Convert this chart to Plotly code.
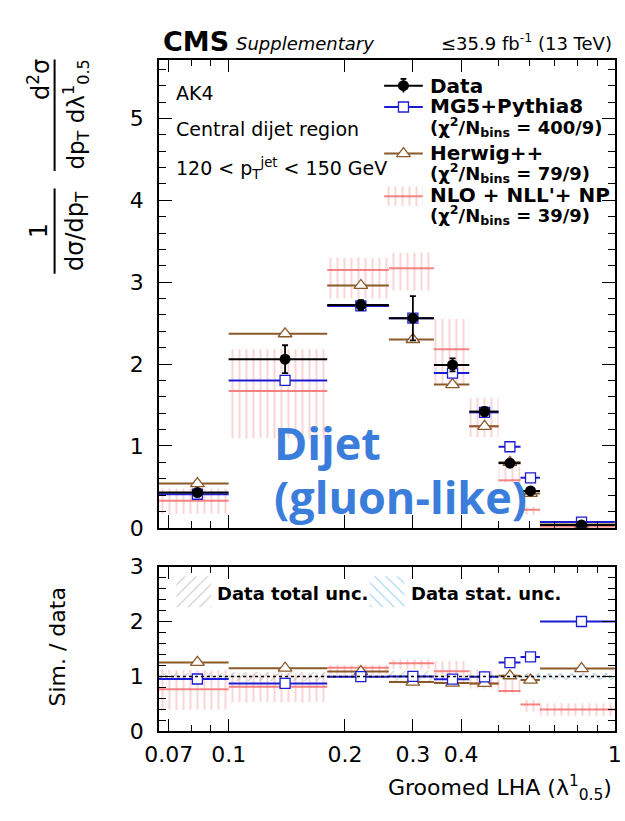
import math
import plotly.graph_objects as go

# Groomed LHA (lambda^1_0.5), AK4 central dijet, 120 < pT < 150 GeV
bin_edges = [0.066, 0.1, 0.18, 0.26, 0.34, 0.42, 0.5, 0.57, 0.64, 1.0]
data_vals = [0.43, 2.06, 2.72, 2.56, 1.99, 1.42, 0.79, 0.45, 0.035]
data_err_total = [0.03, 0.17, 0.06, 0.27, 0.08, 0.05, 0.03, 0.03, 0.002]
data_err_stat = [0.01, 0.03, 0.02, 0.04, 0.02, 0.02, 0.02, 0.02, 0.002]
mg5_vals = [0.41, 1.80, 2.71, 2.56, 1.89, 1.41, 0.99, 0.61, 0.07]
herwig_vals = [0.54, 2.37, 2.96, 2.30, 1.75, 1.24, 0.80, 0.42, 0.04]
nlo_vals = [0.33, 1.67, 3.15, 3.17, 2.18, 1.24, 0.58, 0.22, 0.014]
nlo_lo = [0.17, 1.09, 2.80, 2.90, 1.75, 1.11, 0.55, 0.16, 0.010]
nlo_hi = [0.48, 2.18, 3.30, 3.36, 2.55, 1.59, 0.74, 0.26, 0.018]

x_tick_vals = [0.07, 0.1, 0.2, 0.3, 0.4, 1.0]
x_tick_text = ["0.07", "0.1", "0.2", "0.3", "0.4", "1"]
x_minor_vals = [0.08, 0.09, 0.5, 0.6, 0.7, 0.8, 0.9]

W, H = 625, 821
FONT = "DejaVu Sans"
BLACK = "black"
BLUE = "#1c1cd2"
BROWN = "#8a5a2b"
PINK = "rgba(242,110,110,0.6)"
PINK_LINE = "rgba(242,110,110,0.85)"
GREY = "rgba(120,120,120,0.7)"
LBLUE = "rgba(60,170,225,0.9)"


def px(x):
    return x / W


def py(y):
    return 1 - y / H


centers = [(a + b) / 2 for a, b in zip(bin_edges[:-1], bin_edges[1:])]


def steps(vals):
    xs, ys = [], []
    for a, b, v in zip(bin_edges[:-1], bin_edges[1:], vals):
        xs += [a, b, None]
        ys += [v, v, None]
    return xs, ys


def boxes(lo, hi):
    xs, ys = [], []
    for a, b, l, h in zip(bin_edges[:-1], bin_edges[1:], lo, hi):
        xs += [a, b, b, a, a, None]
        ys += [l, l, h, h, l, None]
    return xs, ys


def ratio(vals):
    return [v / d for v, d in zip(vals, data_vals)]


def hatch(shape, color, size=8, solidity=0.15):
    return dict(shape=shape, fgcolor=color, bgcolor="rgba(0,0,0,0)", size=size,
                solidity=solidity)


fig = go.Figure()


def add_panel(xa, ya, d, mg, hw, nl, nlo_l, nlo_h, show_data, ratio_bands=None):
    if ratio_bands is not None:
        tot, stat = ratio_bands
        bx, by = boxes([1 - t for t in tot], [1 + t for t in tot])
        fig.add_trace(go.Scatter(x=bx, y=by, xaxis=xa, yaxis=ya, mode="lines",
                                 line=dict(width=0), fill="toself", fillcolor="rgba(0,0,0,0)",
                                 fillpattern=hatch("/", GREY), hoverinfo="skip",
                                 showlegend=False))
        bx, by = boxes([1 - s for s in stat], [1 + s for s in stat])
        fig.add_trace(go.Scatter(x=bx, y=by, xaxis=xa, yaxis=ya, mode="lines",
                                 line=dict(width=0), fill="toself", fillcolor="rgba(0,0,0,0)",
                                 fillpattern=hatch("\\", LBLUE), hoverinfo="skip",
                                 showlegend=False))
    # NLO + NLL' + NP band and central value
    bx, by = boxes(nlo_l, nlo_h)
    fig.add_trace(go.Scatter(x=bx, y=by, xaxis=xa, yaxis=ya, mode="lines",
                             line=dict(width=0), fill="toself", fillcolor="rgba(0,0,0,0)",
                             fillpattern=hatch("|", PINK, size=7, solidity=0.28),
                             hoverinfo="skip", showlegend=False))
    sx, sy = steps(nl)
    fig.add_trace(go.Scatter(x=sx, y=sy, xaxis=xa, yaxis=ya, mode="lines",
                             line=dict(color=PINK_LINE, width=2), showlegend=False))
    # Herwig++
    sx, sy = steps(hw)
    fig.add_trace(go.Scatter(x=sx, y=sy, xaxis=xa, yaxis=ya, mode="lines",
                             line=dict(color=BROWN, width=2), showlegend=False))
    fig.add_trace(go.Scatter(x=centers, y=hw, xaxis=xa, yaxis=ya, mode="markers",
                             marker=dict(symbol="triangle-up", size=12, color="white",
                                         line=dict(color=BROWN, width=1.3)),
                             showlegend=False))
    # MG5+Pythia8
    sx, sy = steps(mg)
    fig.add_trace(go.Scatter(x=sx, y=sy, xaxis=xa, yaxis=ya, mode="lines",
                             line=dict(color=BLUE, width=2), showlegend=False))
    fig.add_trace(go.Scatter(x=centers, y=mg, xaxis=xa, yaxis=ya, mode="markers",
                             marker=dict(symbol="square", size=10, color="white",
                                         line=dict(color=BLUE, width=1.3)),
                             showlegend=False))
    if show_data:
        sx, sy = steps(d)
        fig.add_trace(go.Scatter(x=sx, y=sy, xaxis=xa, yaxis=ya, mode="lines",
                                 line=dict(color=BLACK, width=2), showlegend=False))
        fig.add_trace(go.Scatter(x=centers, y=d, xaxis=xa, yaxis=ya, mode="markers",
                                 marker=dict(symbol="circle", size=11, color=BLACK),
                                 error_y=dict(type="data", array=data_err_total, color=BLACK,
                                              thickness=1.8, width=3),
                                 showlegend=False))


add_panel("x", "y", data_vals, mg5_vals, herwig_vals, nlo_vals, nlo_lo, nlo_hi, True)
add_panel("x2", "y2", None, ratio(mg5_vals), ratio(herwig_vals), ratio(nlo_vals),
          ratio(nlo_lo), ratio(nlo_hi), False,
          ratio_bands=([e / d for e, d in zip(data_err_total, data_vals)],
                       [e / d for e, d in zip(data_err_stat, data_vals)]))

# ---- legend keys on a pixel-space overlay axis ----
LX0, LX1, LXM = 383, 423, 403
fig.add_trace(go.Scatter(x=[LX0, LX1], y=[76, 76], xaxis="x3", yaxis="y3", mode="lines",
                         line=dict(color=BLACK, width=2), showlegend=False))
fig.add_trace(go.Scatter(x=[LXM, LXM, None, LXM - 3, LXM + 3], y=[69, 83, None, 69, 69],
                         xaxis="x3", yaxis="y3", mode="lines",
                         line=dict(color=BLACK, width=1.8), showlegend=False))
fig.add_trace(go.Scatter(x=[LXM], y=[76], xaxis="x3", yaxis="y3", mode="markers",
                         marker=dict(symbol="circle", size=11, color=BLACK), showlegend=False))
fig.add_trace(go.Scatter(x=[LX0, LX1], y=[98, 98], xaxis="x3", yaxis="y3", mode="lines",
                         line=dict(color=BLUE, width=2), showlegend=False))
fig.add_trace(go.Scatter(x=[LXM], y=[98], xaxis="x3", yaxis="y3", mode="markers",
                         marker=dict(symbol="square", size=10, color="white",
                                     line=dict(color=BLUE, width=1.3)), showlegend=False))
fig.add_trace(go.Scatter(x=[LX0, LX1], y=[146, 146], xaxis="x3", yaxis="y3", mode="lines",
                         line=dict(color=BROWN, width=2), showlegend=False))
fig.add_trace(go.Scatter(x=[LXM], y=[146], xaxis="x3", yaxis="y3", mode="markers",
                         marker=dict(symbol="triangle-up", size=12, color="white",
                                     line=dict(color=BROWN, width=1.3)), showlegend=False))
fig.add_trace(go.Scatter(x=[LX0, LX1, LX1, LX0, LX0], y=[180, 180, 200, 200, 180],
                         xaxis="x3", yaxis="y3", mode="lines", line=dict(width=0),
                         fill="toself", fillcolor="rgba(0,0,0,0)",
                         fillpattern=hatch("|", PINK, size=7, solidity=0.28),
                         showlegend=False))
fig.add_trace(go.Scatter(x=[LX0, LX1], y=[190, 190], xaxis="x3", yaxis="y3", mode="lines",
                         line=dict(color=PINK_LINE, width=2), showlegend=False))
# ratio-panel legend keys
fig.add_trace(go.Scatter(x=[168, 204, 204, 168, 168], y=[582, 582, 614, 614, 582],
                         xaxis="x3", yaxis="y3", mode="lines", line=dict(width=0),
                         fill="toself", fillcolor="rgba(0,0,0,0)",
                         fillpattern=hatch("/", GREY), showlegend=False))
fig.add_trace(go.Scatter(x=[368, 404, 404, 368, 368], y=[582, 582, 614, 614, 582],
                         xaxis="x3", yaxis="y3", mode="lines", line=dict(width=0),
                         fill="toself", fillcolor="rgba(0,0,0,0)",
                         fillpattern=hatch("\\", LBLUE), showlegend=False))

ax_common = dict(showgrid=False, zeroline=False, ticks="inside", mirror="allticks",
                 showline=True, linecolor=BLACK, linewidth=1.5, tickcolor=BLACK,
                 ticklen=13, tickwidth=1.2,
                 tickfont=dict(family=FONT, size=22, color=BLACK))
x_common = dict(type="log",
                range=[math.log10(bin_edges[0]), math.log10(bin_edges[-1]) + 0.0008],
                domain=[px(150), px(622)], tickvals=x_tick_vals, ticktext=x_tick_text,
                ticklabeloverflow="allow",
                minor=dict(tickvals=x_minor_vals, ticks="inside", ticklen=7,
                           tickcolor=BLACK, tickwidth=1.2), **ax_common)

fig.update_layout(
    width=W, height=H, margin=dict(l=0, r=0, t=0, b=0),
    paper_bgcolor="white", plot_bgcolor="rgba(0,0,0,0)",
    showlegend=False,
    xaxis=dict(anchor="y", showticklabels=False, **x_common),
    yaxis=dict(anchor="x", domain=[py(532), py(49)], range=[0, 5.72],
               tickvals=[0, 1, 2, 3, 4, 5], ticklabelstandoff=9,
               minor=dict(dtick=0.2, ticks="inside", ticklen=7, tickcolor=BLACK, tickwidth=1.2),
               **ax_common),
    xaxis2=dict(anchor="y2", matches="x", showticklabels=True, ticklabelstandoff=2, **x_common),
    yaxis2=dict(anchor="x2", domain=[py(742), py(572)], range=[0, 3],
                tickvals=[0, 1, 2, 3], ticklabelstandoff=9,
                minor=dict(dtick=0.2, ticks="inside", ticklen=7, tickcolor=BLACK, tickwidth=1.2),
                **ax_common),
    xaxis3=dict(domain=[0, 1], range=[0, W], visible=False, anchor="y3", fixedrange=True),
    yaxis3=dict(domain=[0, 1], range=[H, 0], visible=False, anchor="x3", fixedrange=True),
)

# unity reference line in the ratio panel
fig.add_shape(type="line", xref="x2 domain", yref="y2", x0=0, x1=1, y0=1, y1=1,
              line=dict(color=BLACK, width=1.6, dash="dot"))

# y-axis title of the main panel, built as two fractions side by side
fig.add_shape(type="line", xref="paper", yref="paper", x0=px(42), x1=px(42),
              y0=py(49), y1=py(164), line=dict(color=BLACK, width=2))
fig.add_shape(type="line", xref="paper", yref="paper", x0=px(42), x1=px(42),
              y0=py(182), y1=py(270), line=dict(color=BLACK, width=2))


def ann(text, x, y, size, xanchor="center", yanchor="middle", angle=0, color=BLACK,
        family=FONT):
    fig.add_annotation(text=text, x=px(x), y=py(y), xref="paper", yref="paper",
                       showarrow=False, xanchor=xanchor, yanchor=yanchor, textangle=angle,
                       borderpad=0, font=dict(family=family, size=size, color=color))


ann("d<sup>2</sup>σ", 26, 70, 24, angle=-90)
ann("dp<sub>T</sub> dλ<sup>1</sup><sub>0.5</sub>", 64, 106, 23, angle=-90)
ann("1", 26, 226, 24, angle=-90)
ann("dσ/dp<sub>T</sub>", 64, 226, 24, angle=-90)
ann("Sim. / data", 45, 655, 22, angle=-90)
ann("Groomed LHA (λ<sup>1</sup><sub>0.5</sub>)", 620, 800, 22, xanchor="right")

ann("<b>CMS</b>", 153, 30, 27, xanchor="left")
ann("<i>Supplementary</i>", 229, 32, 18, xanchor="left")
ann("≤35.9 fb<sup>-1</sup> (13 TeV)", 620, 31, 18, xanchor="right")

ann("AK4", 167, 84, 19, xanchor="left")
ann("Central dijet region", 167, 121, 19, xanchor="left")
ann("120 < p<sub>T</sub><sup>jet</sup> < 150 GeV", 167, 161, 19, xanchor="left")

LT = 429
ann("<b>Data</b>", LT, 76, 20, xanchor="left")
ann("<b>MG5+Pythia8</b>", LT, 97, 20, xanchor="left")
ann("<b>(χ<sup>2</sup>/N<sub>bins</sub> = 400/9)</b>", LT, 119, 18, xanchor="left")
ann("<b>Herwig++</b>", LT, 145, 20, xanchor="left")
ann("<b>(χ<sup>2</sup>/N<sub>bins</sub> = 79/9)</b>", LT, 166, 18, xanchor="left")
ann("<b>NLO + NLL'+ NP</b>", LT, 189, 20, xanchor="left")
ann("<b>(χ<sup>2</sup>/N<sub>bins</sub> = 39/9)</b>", LT, 209, 18, xanchor="left")

ann("<b>Data total unc.</b>", 209, 600, 18, xanchor="left")
ann("<b>Data stat. unc.</b>", 410, 600, 18, xanchor="left")

ann("<b>Dijet</b>", 268, 444, 45, xanchor="left", color="#3b7ddb", family="Open Sans")
ann("<b>(gluon-like)</b>", 268, 500, 45, xanchor="left", color="#3b7ddb", family="Open Sans")

fig.write_html("out.html")
